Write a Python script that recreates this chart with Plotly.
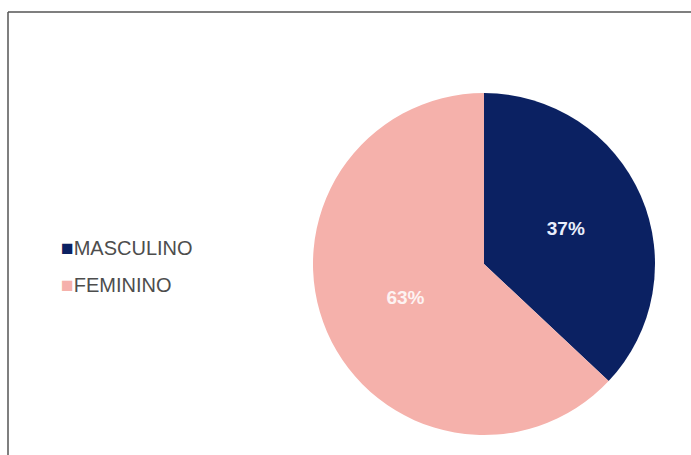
import plotly.graph_objects as go

categories = ["MASCULINO", "FEMININO"]
values = [37, 63]
colors = ["#0b2162", "#f5b1ab"]
label_colors = ["#e8eefc", "#fdf3f2"]

W, H = 691, 455

fig = go.Figure()
fig.add_trace(go.Pie(
    labels=categories,
    values=values,
    sort=False,
    direction="clockwise",
    rotation=0,
    marker=dict(colors=colors, line=dict(width=0)),
    textinfo="percent",
    texttemplate="%{percent:.0%}",
    textposition="inside",
    insidetextorientation="horizontal",
    insidetextfont=dict(family="Liberation Sans Narrow, Liberation Sans, Arial", size=19,
                        color=label_colors, weight="bold"),
    showlegend=False,
    hoverinfo="label+percent",
    domain=dict(x=[313 / W, 655 / W], y=[1 - 435 / H, 1 - 93 / H]),
))

# legend drawn as text rows
legend_y = [248, 284]
for cat, col, yy in zip(categories, colors, legend_y):
    fig.add_annotation(
        xref="paper", yref="paper", x=59 / W, y=1 - yy / H,
        xanchor="left", yanchor="middle", showarrow=False,
        text=f'<span style="color:{col};font-size:21px">■</span>{cat}',
        font=dict(family="Liberation Sans, Arial", size=20, color="#4d4d4d"),
    )

# frame lines
fig.add_shape(type="line", xref="paper", yref="paper",
              x0=8 / W, x1=1.01, y0=1 - 12 / H, y1=1 - 12 / H,
              line=dict(color="#555555", width=1.5))
fig.add_shape(type="line", xref="paper", yref="paper",
              x0=8 / W, x1=8 / W, y0=-0.01, y1=1 - 12 / H,
              line=dict(color="#555555", width=1.5))

fig.update_layout(
    width=W, height=H,
    margin=dict(l=0, r=0, t=0, b=0),
    paper_bgcolor="white", plot_bgcolor="white",
)

fig.write_html("out.html")
